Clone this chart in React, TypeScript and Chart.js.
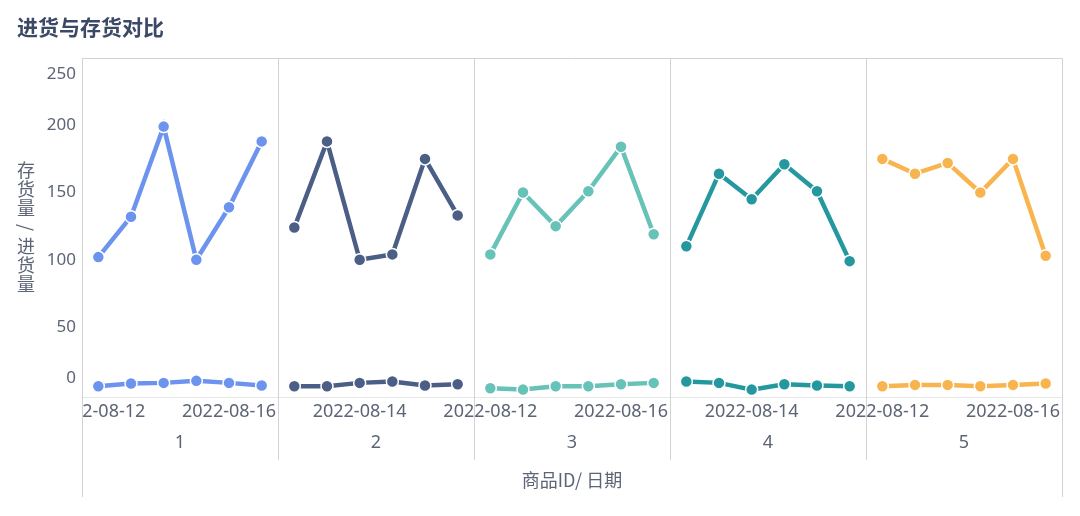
import React, { useEffect, useRef } from 'react';
import { Chart, registerables } from 'chart.js';

Chart.register(...registerables);

const chartTitle = '进货与存货对比';
const yAxisTitle = '存货量/进货量';
const xAxisTitle = '商品ID/ 日期';

const dates = ['2022-08-12', '2022-08-13', '2022-08-14', '2022-08-15', '2022-08-16', '2022-08-17'];
const productIds = ['1', '2', '3', '4', '5'];

// 存货量 (upper lines)
const stock1 = [102, 132, 199, 100, 139, 188];
const stock2 = [124, 188, 100, 104, 175, 133];
const stock3 = [104, 150, 125, 151, 184, 119];
const stock4 = [110, 164, 145, 171, 151, 99];
const stock5 = [175, 164, 172, 150, 175, 103];

// 进货量 (lower lines)
const purchase1 = [6, 8, 8.5, 10, 8.5, 6.5];
const purchase2 = [6, 6, 8.5, 9.5, 6.5, 7.5];
const purchase3 = [4.5, 3.5, 6, 6, 7.5, 8.5];
const purchase4 = [9.5, 8.5, 3.5, 7.5, 6.5, 6];
const purchase5 = [6, 7, 7, 6, 7, 8];

const yTicks = [0, 50, 100, 150, 200, 250];
const colors = ['#6C93EE', '#4B5E85', '#67C2B8', '#24989E', '#F8B44F'];

const stockSeries = [stock1, stock2, stock3, stock4, stock5];
const purchaseSeries = [purchase1, purchase2, purchase3, purchase4, purchase5];

const categoryLabels = productIds.flatMap(() => dates);

const LATIN = "'Noto Sans', 'Noto Sans CJK SC', sans-serif";
const CJK = "'Noto Sans CJK SC', 'Noto Sans', sans-serif";
const TICK_COLOR = '#5c6476';
const FRAME = '#d2d2d2';

function spread(values: number[], p: number) {
  const arr: (number | null)[] = new Array(categoryLabels.length).fill(null);
  values.forEach((v, i) => {
    arr[p * dates.length + i] = v;
  });
  return arr;
}

const align = (v: number) => Math.round(v - 0.5) + 0.5;

const panelPlugin = {
  id: 'panelFrame',
  afterDraw(chart: any) {
    const { ctx, chartArea } = chart;
    const x = chart.scales.x;
    const n = dates.length;
    const left = align(chartArea.left);
    const right = align(chartArea.right);
    const top = align(chartArea.top);
    const frameBottom = chartArea.bottom + 100;
    const dividerBottom = chartArea.bottom + 63;
    ctx.save();
    // clip tick labels that overflow left of the plot
    ctx.fillStyle = '#ffffff';
    ctx.fillRect(0, chartArea.bottom + 1, Math.floor(chartArea.left), 40);
    // frame
    ctx.strokeStyle = FRAME;
    ctx.lineWidth = 1;
    ctx.beginPath();
    ctx.moveTo(left, top);
    ctx.lineTo(right, top);
    ctx.moveTo(left, top);
    ctx.lineTo(left, frameBottom);
    ctx.moveTo(right, top);
    ctx.lineTo(right, frameBottom);
    for (let p = 1; p < productIds.length; p++) {
      const xp = align((x.getPixelForValue(p * n - 1) + x.getPixelForValue(p * n)) / 2);
      ctx.moveTo(xp, top);
      ctx.lineTo(xp, dividerBottom);
    }
    ctx.stroke();
    // product id labels
    ctx.fillStyle = TICK_COLOR;
    ctx.font = `18px ${LATIN}`;
    ctx.textAlign = 'center';
    ctx.textBaseline = 'middle';
    productIds.forEach((id, p) => {
      const cx = (x.getPixelForValue(p * n) + x.getPixelForValue(p * n + n - 1)) / 2;
      ctx.fillText(id, cx, chartArea.bottom + 46);
    });
    // vertical y-axis title (upright characters)
    ctx.font = `18px ${CJK}`;
    const chars = Array.from(yAxisTitle);
    const pitch = 19;
    const cy = (chartArea.top + chartArea.bottom) / 2;
    const cx = 26;
    chars.forEach((ch, i) => {
      const yy = cy + (i - (chars.length - 1) / 2) * pitch;
      if (ch === '/') {
        ctx.save();
        ctx.translate(cx, yy);
        ctx.rotate(Math.PI / 2);
        ctx.fillText(ch, 0, 0);
        ctx.restore();
      } else {
        ctx.fillText(ch, cx, yy);
      }
    });
    ctx.restore();
  },
};

export default function App() {
  const canvasRef = useRef<HTMLCanvasElement | null>(null);

  useEffect(() => {
    if (!canvasRef.current) return;
    const datasets: any[] = [];
    const common = {
      pointBorderColor: '#ffffff',
      pointBorderWidth: 1.5,
      pointRadius: 6,
      borderWidth: 4.5,
      tension: 0,
      spanGaps: false,
    };
    productIds.forEach((id, p) => {
      datasets.push({
        label: `存货量 ${id}`,
        data: spread(stockSeries[p], p),
        borderColor: colors[p],
        backgroundColor: colors[p],
        pointBackgroundColor: colors[p],
        ...common,
      });
      datasets.push({
        label: `进货量 ${id}`,
        data: spread(purchaseSeries[p], p),
        borderColor: colors[p],
        backgroundColor: colors[p],
        pointBackgroundColor: colors[p],
        ...common,
      });
    });

    const chart = new Chart(canvasRef.current, {
      type: 'line',
      data: { labels: categoryLabels, datasets },
      plugins: [panelPlugin],
      options: {
        responsive: false,
        animation: false,
        layout: { padding: { left: 17, right: 18, top: 0, bottom: 0 } },
        plugins: {
          legend: { display: false },
          tooltip: { enabled: false },
          title: {
            display: true,
            text: chartTitle,
            align: 'start',
            color: '#3b4966',
            font: { family: CJK, size: 21, weight: 'bold', lineHeight: 1.2 },
            padding: { top: 14.4, bottom: 18.4 },
          },
        },
        scales: {
          x: {
            type: 'category',
            offset: true,
            afterFit: (s: any) => {
              s.height = 119;
            },
            grid: { display: false, drawTicks: false },
            border: { display: true, color: '#e6e6e6' },
            ticks: {
              autoSkip: false,
              maxRotation: 0,
              minRotation: 0,
              padding: 4,
              color: TICK_COLOR,
              font: { family: LATIN, size: 18 },
              callback: (_v: any, i: number) => (i % 4 === 0 ? categoryLabels[i] : ''),
            },
            title: {
              display: true,
              text: xAxisTitle,
              color: TICK_COLOR,
              font: { family: CJK, size: 18, lineHeight: 1.2 },
              padding: { top: 0, bottom: 25 },
            },
          },
          y: {
            min: -2,
            max: 250,
            afterBuildTicks: (s: any) => {
              s.ticks = yTicks.map((v) => ({ value: v }));
            },
            afterFit: (s: any) => {
              s.width = 65;
            },
            grid: { display: false, drawTicks: false },
            border: { display: true, color: FRAME },
            ticks: {
              padding: 6,
              color: TICK_COLOR,
              font: (c: any) => {
                const v = c.tick ? c.tick.value : null;
                const edge = v === yTicks[0] || v === yTicks[yTicks.length - 1];
                return { family: LATIN, size: 17, lineHeight: edge ? '32px' : 1.2 };
              },
              callback: (v: any) => {
                if (v === yTicks[0]) return [String(v), ''];
                if (v === yTicks[yTicks.length - 1]) return ['', String(v)];
                return String(v);
              },
            },
          },
        },
      } as any,
    });
    return () => chart.destroy();
  }, []);

  return (
    <div style={{ position: 'fixed', left: 0, top: 0, width: 1080, height: 516, background: '#fff' }}>
      <canvas ref={canvasRef} width={1080} height={516} style={{ display: 'block' }} />
    </div>
  );
}
